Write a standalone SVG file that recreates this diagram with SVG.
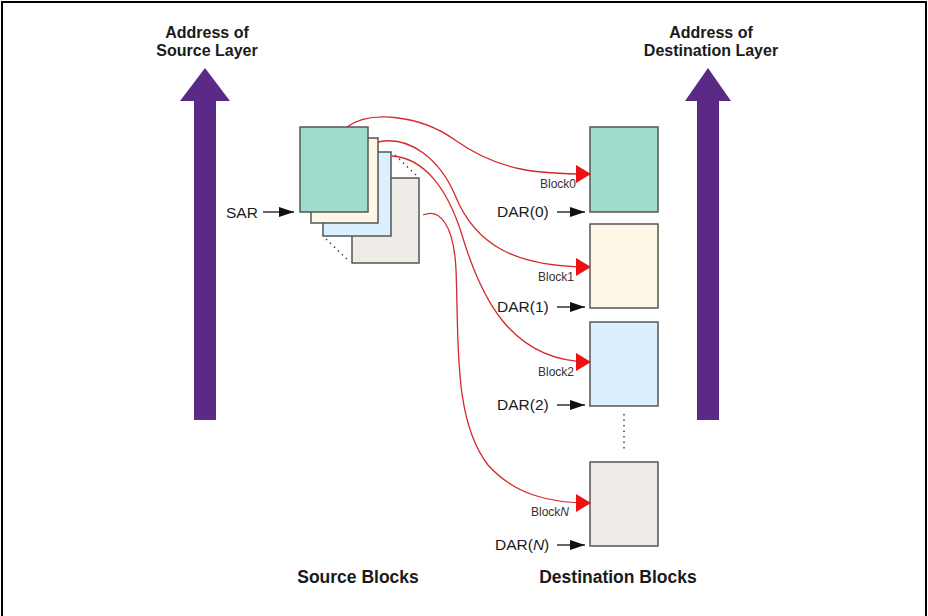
<svg xmlns="http://www.w3.org/2000/svg" width="928" height="616" viewBox="0 0 928 616">
<defs>
<marker id="redHead" markerUnits="userSpaceOnUse" markerWidth="15" markerHeight="18" refX="14" refY="9" orient="auto">
<path d="M0,0 L15,9 L0,18 Z" fill="#ee1111"/>
</marker>
<marker id="blkHead" markerUnits="userSpaceOnUse" markerWidth="15" markerHeight="10" refX="15" refY="5" orient="auto">
<path d="M0,0 L15,5 L0,10 Z" fill="#111"/>
</marker>
</defs>
<style>
.title{font-family:"Liberation Sans",Arial,sans-serif;font-weight:bold;font-size:16px;fill:#1a1a1a;text-anchor:middle}
.big{font-size:17.5px}
.lbl{font-family:"Liberation Sans",Arial,sans-serif;font-size:15.5px;fill:#1a1a1a}
.blk{font-family:"Liberation Sans",Arial,sans-serif;font-size:12px;fill:#333;text-anchor:end}
.box{stroke:#555;stroke-width:1.5}
.red{fill:none;stroke:#d42a2a;stroke-width:1.3;marker-end:url(#redHead)}
.blkarrow{stroke:#111;stroke-width:1.3;marker-end:url(#blkHead)}
.dots{stroke:#444;stroke-width:1.5;stroke-dasharray:1.5 4}
.purple{fill:#5a2a86}
</style>
<rect x="0" y="0" width="928" height="616" fill="#fff"/>
<rect x="2" y="2" width="924" height="630" fill="none" stroke="#000" stroke-width="2"/>

<g id="src-address-arrow">
<path class="purple" d="M205,68 L230,101 L216,101 L216,420 L194,420 L194,101 L180,101 Z"/>
<text class="title" x="207" y="38">Address of</text>
<text class="title" x="207" y="56">Source Layer</text>
</g>
<g id="dst-address-arrow">
<path class="purple" d="M708,68 L731,101 L719,101 L719,420 L697,420 L697,101 L685,101 Z"/>
<text class="title" x="711" y="38">Address of</text>
<text class="title" x="711" y="56">Destination Layer</text>
</g>

<g id="source-blocks">
<rect id="srcN" class="box" x="352" y="178" width="67" height="85" fill="#efebe6"/>
<rect id="src2" class="box" x="323" y="152" width="68" height="84" fill="#dcefff"/>
<rect id="src1" class="box" x="311" y="138" width="67" height="85" fill="#fcf8e5"/>
<rect id="src0" class="box" x="300" y="127" width="68" height="85" fill="#a0dccb"/>
<line class="dots" x1="395" y1="155" x2="418" y2="177"/>
<line class="dots" x1="326" y1="239" x2="350" y2="262"/>
<text class="title big" x="358" y="583">Source Blocks</text>
</g>

<g id="sar">
<text class="lbl" x="226" y="218">SAR</text>
</g>

<g id="dest-block0">
<rect class="box" x="590" y="127" width="68" height="85" fill="#a0dccb"/>
<text class="blk" x="576" y="188">Block0</text>
<text class="lbl" x="497" y="217">DAR(0)</text>
</g>
<g id="dest-block1">
<rect class="box" x="590" y="224" width="68" height="84" fill="#fcf8e5"/>
<text class="blk" x="574" y="281">Block1</text>
<text class="lbl" x="497" y="312">DAR(1)</text>
</g>
<g id="dest-block2">
<rect class="box" x="590" y="322" width="68" height="84" fill="#dcefff"/>
<text class="blk" x="574" y="376">Block2</text>
<text class="lbl" x="497" y="410">DAR(2)</text>
</g>
<line class="dots" x1="624" y1="414" x2="624" y2="452"/>
<g id="dest-blockN">
<rect class="box" x="590" y="462" width="68" height="84" fill="#efebe6"/>
<text class="blk" x="569" y="516">Block<tspan font-style="italic">N</tspan></text>
<text class="lbl" x="495" y="550">DAR(<tspan font-style="italic">N</tspan>)</text>
</g>
<text class="title big" x="618" y="583">Destination Blocks</text>

<g id="connectors">
<line class="blkarrow" x1="263" y1="212" x2="294" y2="212"/>
<line class="blkarrow" x1="557" y1="212" x2="585" y2="212"/>
<line class="blkarrow" x1="557" y1="307" x2="585" y2="307"/>
<line class="blkarrow" x1="557" y1="405" x2="585" y2="405"/>
<line class="blkarrow" x1="557" y1="545" x2="585" y2="545"/>
<path class="red" d="M347,127 C370,110 420,115 455,140 C500,172 540,174 590,174"/>
<path class="red" d="M378,142 C410,135 440,160 455,195 C475,245 515,267 590,267"/>
<path class="red" d="M392,156 C425,158 448,190 462,235 C480,295 510,362 590,362"/>
<path class="red" d="M423,215 C440,208 454,225 456,270 C459,340 453,420 488,465 C515,495 550,503 590,503"/>
</g>
</svg>
